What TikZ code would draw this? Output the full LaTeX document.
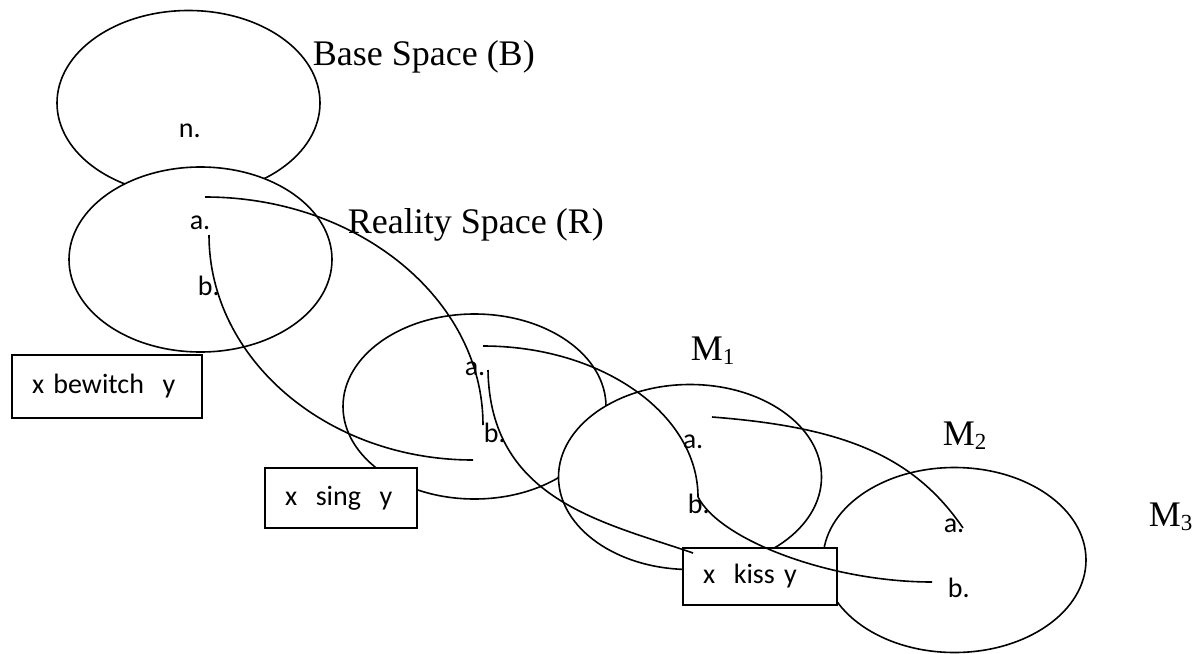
\documentclass[tikz,border=0pt]{standalone}
\usepackage{fontspec}
\setmainfont{Liberation Serif}
\newfontfamily\calibfont{Carlito}
\usetikzlibrary{shapes.geometric}
\newcommand{\msub}[1]{M\raisebox{-0.12em}{\fontsize{23}{23}\selectfont #1}}

\begin{document}
\begin{tikzpicture}[x=1pt, y=1pt, line width=1.6pt,
		space/.style={ellipse, draw, fill=white, minimum width=263pt, minimum height=185pt, inner sep=0pt},
		dotlbl/.style={font=\calibfont\fontsize{28}{28}\selectfont, inner sep=0pt, anchor=base west},
		title/.style={font=\fontsize{36}{36}\selectfont, inner sep=0pt, anchor=base west},
		relbox/.style={rectangle, draw, fill=white, inner xsep=20pt, inner ysep=0pt, align=left, font=\calibfont\fontsize{28}{28}\selectfont}]
		%%%%% START %%%%%
		\useasboundingbox (0,0) rectangle (1198,-653);
		
		\node[space] (B) at (188.5,-103) {};
		\node[space] (R) at (200.5,-259.5) {};
		\node[space] (Mone) at (474.5,-406.5) {};
		\node[space] (Mtwo) at (690,-477) {};
		\node[space] (Mthree) at (954.5,-560) {};
		
		\node[dotlbl] (Bn) at (178,-137) {n.};
		\node[dotlbl] (Ra) at (189,-229) {a.};
		\node[dotlbl] (Rb) at (197,-295) {b.};
		\node[dotlbl] (Monea) at (464,-375) {a.};
		\node[dotlbl] (Moneb) at (483,-442) {b.};
		\node[dotlbl] (Mtwoa) at (682,-448) {a.};
		\node[dotlbl] (Mtwob) at (687,-513) {b.};
		\node[dotlbl] (Mthreea) at (943,-532) {a.};
		\node[dotlbl] (Mthreeb) at (947,-597) {b.};
		
		\node[title] (Bname) at (312,-65) {Base Space (B)};
		\node[title] (Rname) at (347,-233) {Reality Space (R)};
		\node[title] (Monename) at (690,-360) {\msub{1}};
		\node[title] (Mtwoname) at (942,-445) {\msub{2}};
		\node[title] (Mthreename) at (1148,-526) {\msub{3}};
		
		\node[relbox, text width=150pt, minimum height=63pt] (bewitch) at (107,-386.5) {x bewitch\ \ y};
		\node[relbox, text width=112pt, minimum height=60pt] (sing) at (341,-498) {x\ \ sing\ \ y};
		\node[relbox, text width=114pt, minimum height=57pt] (kiss) at (760,-576.5) {x\ \ kiss y};
		
		% ends of the links
		\coordinate (Raout) at (205,-197);
		\coordinate (Rbout) at (209,-235);
		\coordinate (Monebin) at (483,-425);
		\coordinate (Monelow) at (473,-460);
		\coordinate (Moneaout) at (483,-346);
		\coordinate (Monebout) at (488,-370);
		\coordinate (Mtwobin) at (698,-497);
		\coordinate (kissin) at (693,-553);
		\coordinate (Mtwoaout) at (712,-417);
		\coordinate (Mthreeain) at (963,-528);
		\coordinate (Mthreebin) at (932,-582);
		
		\draw (Raout) .. controls +(153,0) and +(0,126) .. (Monebin);
		\draw (Rbout) .. controls +(0,-124) and +(-146,0) .. (Monelow);
		\draw (Moneaout) .. controls +(119,0) and +(0,83) .. (Mtwobin);
		\draw (Monebout) .. controls +(2,-130) and +(-90,31) .. (kissin);
		\draw (Mtwoaout) .. controls +(130,-10) and +(-50,73) .. (Mthreeain);
		\draw (Mtwobin) .. controls +(22,-43) and +(-102,0) .. (Mthreebin);
		%%%%% END %%%%%
	\end{tikzpicture}
\end{document}
